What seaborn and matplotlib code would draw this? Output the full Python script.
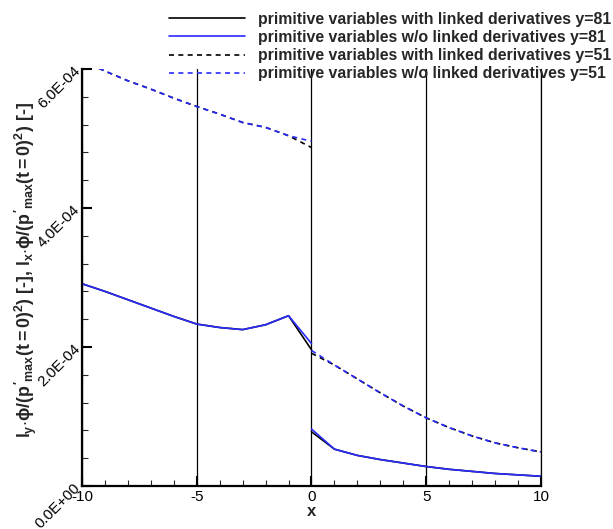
import numpy as np
import pandas as pd
import matplotlib
matplotlib.use("Agg")
import matplotlib.pyplot as plt
from matplotlib.ticker import MultipleLocator, FixedLocator, FixedFormatter
import seaborn as sns

# values (units of 1E-04)
x_left = [-10, -9, -8, -7, -6, -5, -4, -3, -2, -1, 0]
x_right = [0, 1, 2, 3, 4, 5, 6, 7, 8, 9, 10]

y81_with_left = [2.91, 2.80, 2.68, 2.56, 2.44, 2.33, 2.28, 2.25, 2.32, 2.45, 1.96]
y81_wo_left = [2.91, 2.80, 2.68, 2.56, 2.44, 2.33, 2.28, 2.25, 2.32, 2.45, 2.05]
y81_with_right = [0.78, 0.53, 0.44, 0.38, 0.33, 0.28, 0.24, 0.21, 0.18, 0.16, 0.14]
y81_wo_right = [0.82, 0.53, 0.44, 0.38, 0.33, 0.28, 0.24, 0.21, 0.18, 0.16, 0.14]

y51_with_left = [6.12, 5.97, 5.83, 5.71, 5.58, 5.46, 5.35, 5.23, 5.16, 5.04, 4.87]
y51_wo_left = [6.12, 5.97, 5.83, 5.71, 5.58, 5.46, 5.35, 5.23, 5.16, 5.04, 4.96]
y51_with_right = [1.91, 1.74, 1.54, 1.34, 1.15, 0.98, 0.84, 0.72, 0.62, 0.55, 0.49]
y51_wo_right = [1.95, 1.74, 1.54, 1.34, 1.15, 0.98, 0.84, 0.72, 0.62, 0.55, 0.49]

series_names = [
    "primitive variables with linked derivatives y=81",
    "primitive variables w/o linked derivatives y=81",
    "primitive variables with linked derivatives y=51",
    "primitive variables w/o linked derivatives y=51",
]
series_left = [y81_with_left, y81_wo_left, y51_with_left, y51_wo_left]
series_right = [y81_with_right, y81_wo_right, y51_with_right, y51_wo_right]

xticks = [-10, -5, 0, 5, 10]
yticks = [0.0, 2e-4, 4e-4, 6e-4]
ytick_labels = ["0.0E+00", "2.0E-04", "4.0E-04", "6.0E-04"]

rows = []
for name, left, right in zip(series_names, series_left, series_right):
    for seg, xs, ys in [("left", x_left, left), ("right", x_right, right)]:
        for xv, yv in zip(xs, ys):
            rows.append({"x": xv, "value": yv * 1e-4, "series": name,
                         "segment": name + seg})
df = pd.DataFrame(rows)

sns.set_style("white")
plt.rcParams["font.family"] = ["Liberation Sans", "DejaVu Sans"]
plt.rcParams["axes.unicode_minus"] = False
plt.rcParams["mathtext.fontset"] = "custom"
plt.rcParams["mathtext.rm"] = "Liberation Sans:bold"
plt.rcParams["mathtext.it"] = "Liberation Sans:bold"
plt.rcParams["mathtext.bf"] = "Liberation Sans:bold"

blue = "#2b2bff"
palette = dict(zip(series_names, ["black", blue, "black", blue]))
dashes = dict(zip(series_names, ["", "", (3, 2.6), (3, 2.6)]))

fig = plt.figure(figsize=(6.13, 5.29), dpi=100)
ax = fig.add_axes([0.1338, 0.0813, 0.7487, 0.7883])

sns.lineplot(data=df, x="x", y="value", hue="series", style="series",
             units="segment", estimator=None, sort=False,
             palette=palette, dashes=dashes, hue_order=series_names,
             style_order=series_names, linewidth=1.2, ax=ax)

ax.set_xlim(-10, 10)
ax.set_ylim(0, 6e-4)
ax.xaxis.set_major_locator(FixedLocator(xticks))
ax.xaxis.set_minor_locator(MultipleLocator(1))
ax.yaxis.set_major_locator(FixedLocator(yticks))
ax.yaxis.set_major_formatter(FixedFormatter(ytick_labels))
ax.yaxis.set_minor_locator(MultipleLocator(0.4e-4))

ax.grid(axis="x", which="major", color="black", linewidth=0.9)
ax.tick_params(which="major", direction="in", length=7, width=1.5,
               labelsize=11, pad=3, colors="black")
ax.tick_params(which="minor", direction="in", length=4, width=0.8)
ax.tick_params(axis="both", which="both", top=False, right=False,
               bottom=True, left=True)
for lab in ax.get_yticklabels():
    lab.set_rotation(45)
    lab.set_rotation_mode("anchor")
    lab.set_ha("right")
    lab.set_va("center")

ax.spines["top"].set_visible(False)
ax.spines["left"].set_linewidth(1.6)
ax.spines["bottom"].set_linewidth(1.6)
ax.spines["right"].set_linewidth(0.9)
for s in ["left", "bottom", "right"]:
    ax.spines[s].set_color("black")

ax.set_xlabel("x", fontsize=12, fontweight="bold", labelpad=0)
ax.set_ylabel(r"$l_y{\cdot}\phi/(p'_{max}(t=0)^2)$ [-], $l_x{\cdot}\phi/(p'_{max}(t=0)^2)$ [-]",
              fontsize=12.8, fontweight="bold")
ax.yaxis.set_label_coords(-0.093, 0.518)

sns.move_legend(ax, "upper left", bbox_to_anchor=(163 / 613, 1 - 5.5 / 529),
                bbox_transform=fig.transFigure, frameon=False, title=None,
                prop={"weight": "bold", "size": 11.4}, handlelength=4.8,
                handletextpad=0.8, labelspacing=0.2, borderaxespad=0)

fig.savefig("out.png", dpi=100)
